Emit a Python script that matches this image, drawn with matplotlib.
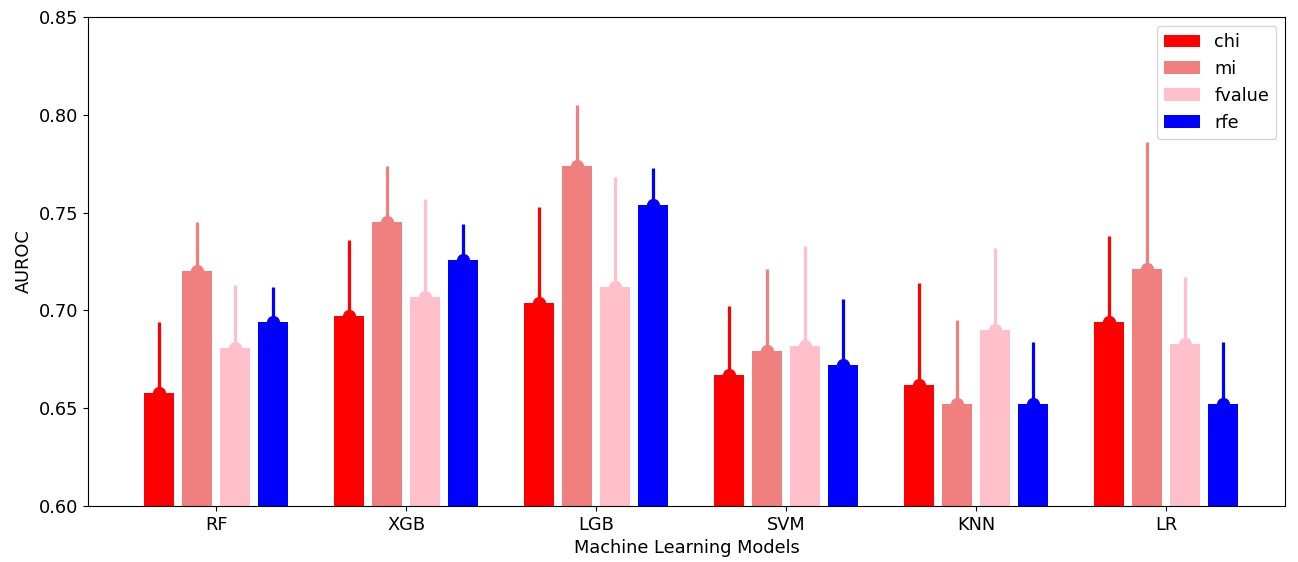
import matplotlib
matplotlib.use("Agg")
import matplotlib.pyplot as plt
import numpy as np

models = ["RF", "XGB", "LGB", "SVM", "KNN", "LR"]
methods = ["chi", "mi", "fvalue", "rfe"]
colors = ["red", "lightcoral", "pink", "blue"]

# mean AUROC per method (one value per model)
chi = [0.658, 0.697, 0.704, 0.667, 0.662, 0.694]
mi = [0.720, 0.745, 0.774, 0.679, 0.652, 0.721]
fvalue = [0.681, 0.707, 0.712, 0.682, 0.690, 0.683]
rfe = [0.694, 0.726, 0.754, 0.672, 0.652, 0.652]

# std of AUROC
chi_std = [0.036, 0.039, 0.049, 0.035, 0.052, 0.044]
mi_std = [0.025, 0.029, 0.031, 0.042, 0.043, 0.065]
fvalue_std = [0.032, 0.050, 0.056, 0.051, 0.042, 0.034]
rfe_std = [0.018, 0.018, 0.019, 0.034, 0.032, 0.032]

means = [chi, mi, fvalue, rfe]
stds = [chi_std, mi_std, fvalue_std, rfe_std]

plt.rcParams["font.size"] = 12.8

fig = plt.figure(figsize=(12.98, 5.62), dpi=100)
ax = fig.add_axes([0.0678, 0.0996, 0.9222, 0.8702])

x = np.arange(len(models))
step = 0.2
width = 0.16
for i in range(len(methods)):
	pos = x + (i - 1.5) * step
	ax.bar(pos, means[i], width, color=colors[i], label=methods[i])
	ax.errorbar(pos, means[i], yerr=stds[i], fmt="o", color=colors[i],
				ecolor=colors[i], elinewidth=2.3, markersize=8.5, capsize=0)

ax.set_ylim(0.6, 0.85)
ax.set_xlim(-0.674, 5.626)
ax.set_xticks(x)
ax.set_xticklabels(models)
ax.set_xlabel("Machine Learning Models")
ax.set_ylabel("AUROC")
ax.legend(loc="upper right")

fig.savefig("out.png", dpi=100)
